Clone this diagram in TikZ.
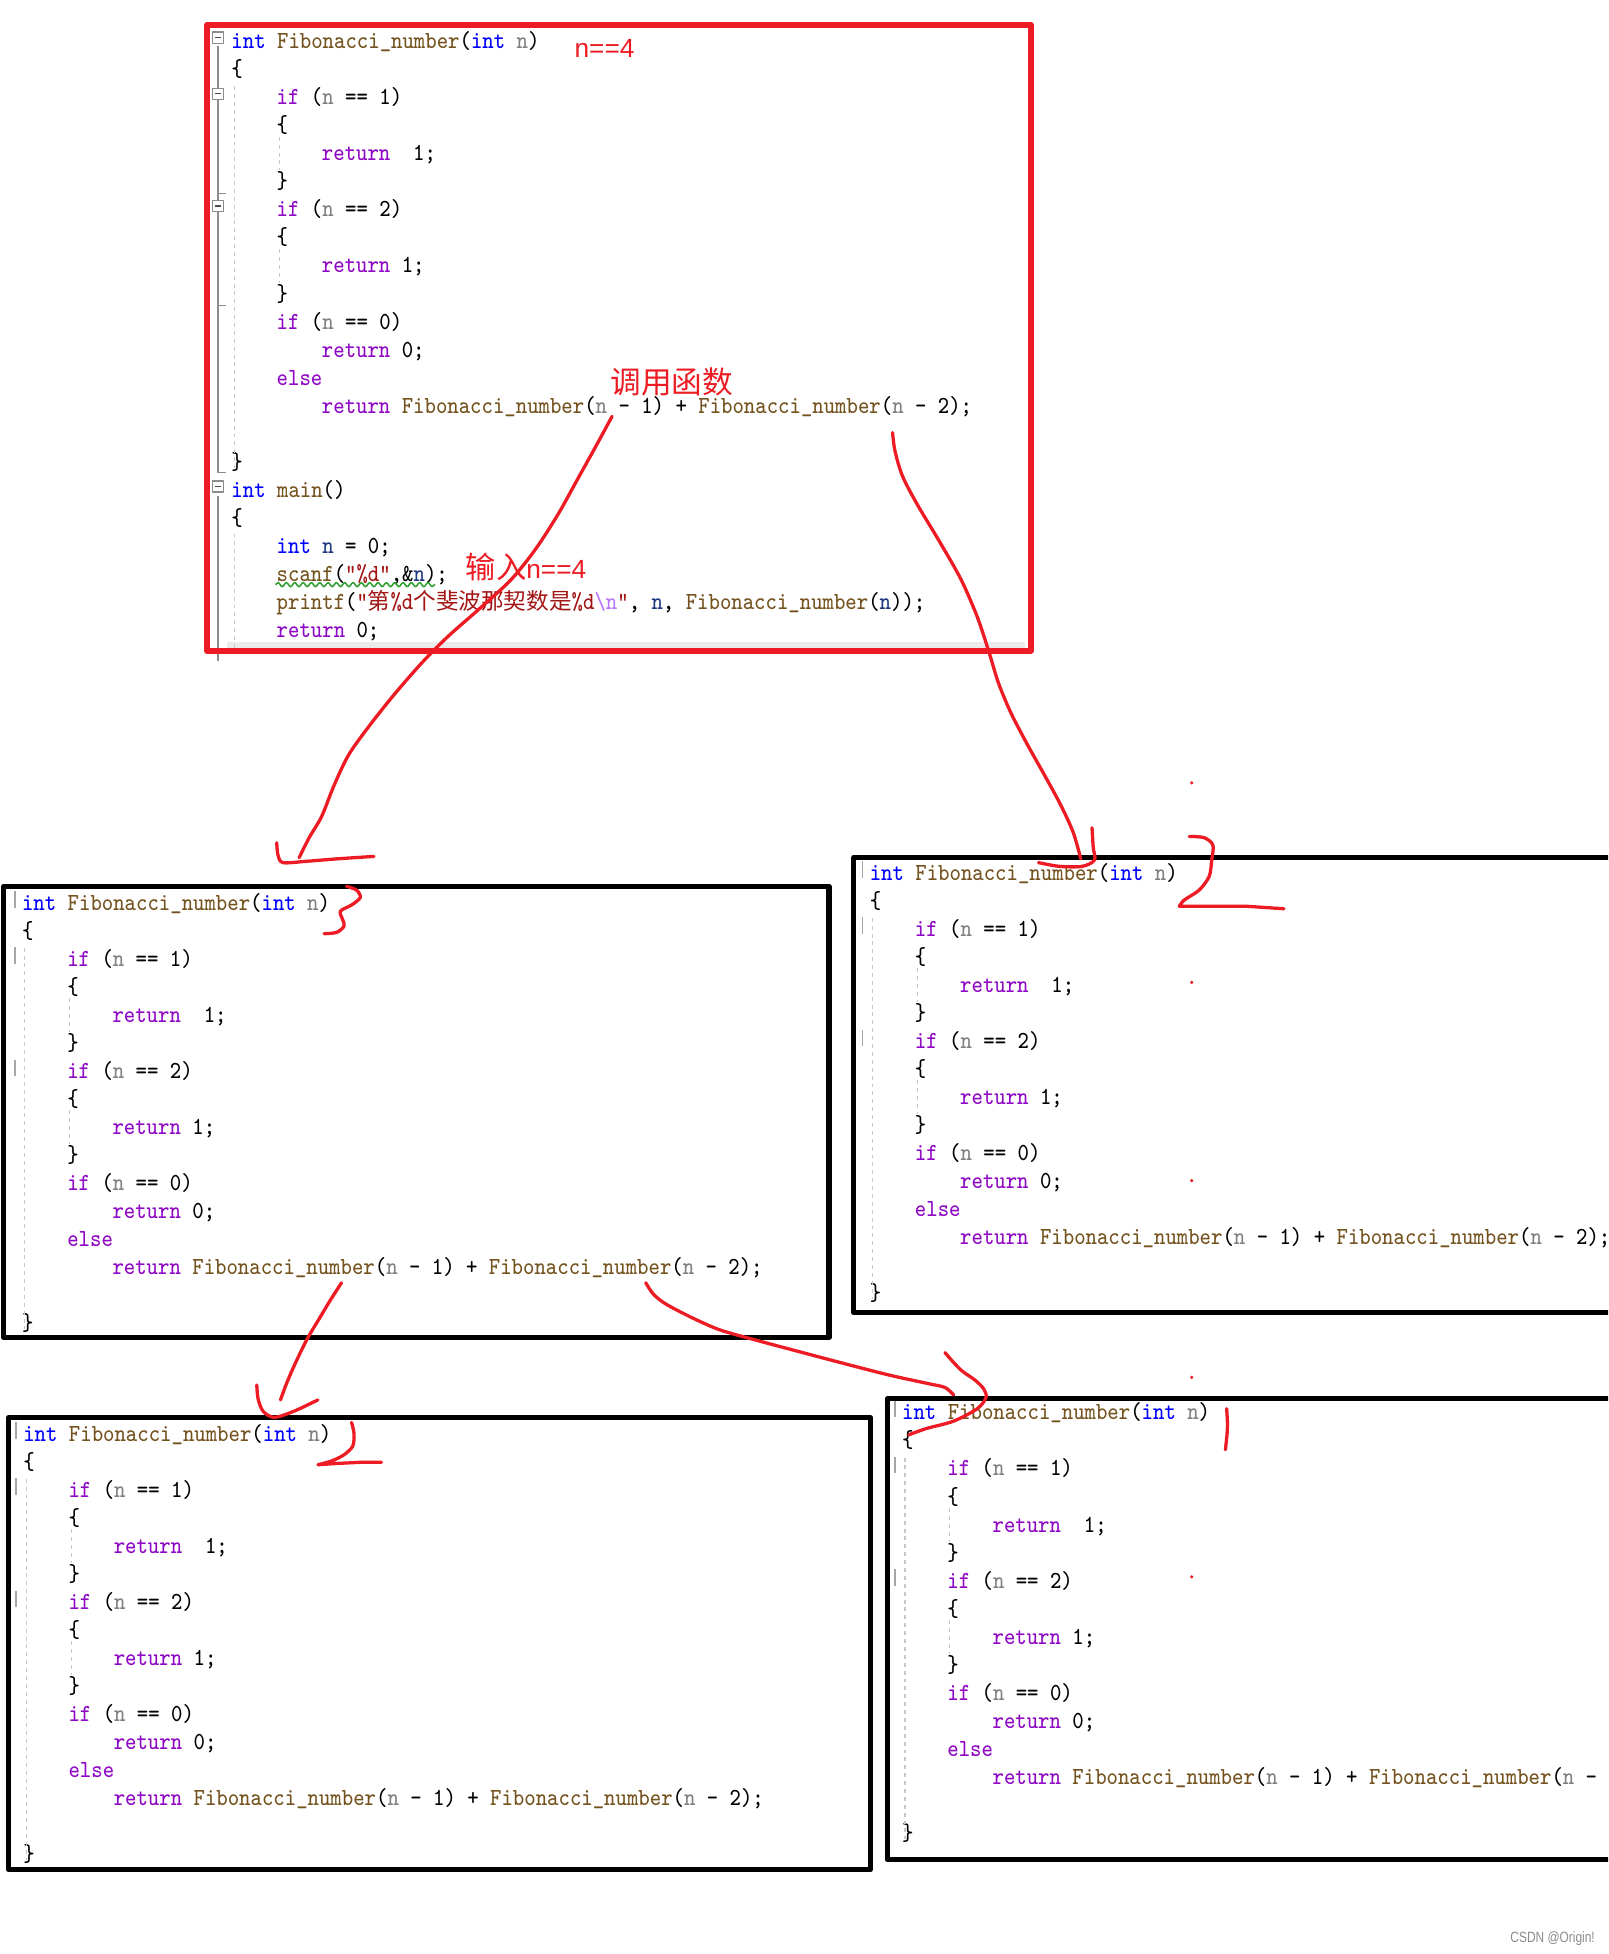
\documentclass[tikz,border=0pt]{standalone}
\usepackage{fontspec}
\usetikzlibrary{decorations.pathmorphing}
\newfontfamily\codefont{Latin Modern Mono}[FakeStretch=0.875]
\newfontfamily\cjkfont{Noto Sans CJK SC}
\newfontfamily\notefont{Liberation Sans}
\newfontfamily\markfont{Liberation Sans}[FakeStretch=0.8]
\definecolor{kwblue}{HTML}{0000FF}
\definecolor{ctlpurple}{HTML}{8F08C4}
\definecolor{fnbrown}{HTML}{74531F}
\definecolor{pargray}{HTML}{808080}
\definecolor{varnavy}{HTML}{1F377F}
\definecolor{strred}{HTML}{A31515}
\definecolor{escpurple}{HTML}{B776FB}
\definecolor{notered}{HTML}{ED1C24}
\definecolor{wavygreen}{HTML}{2E9E2E}
% code colouring
\newcommand{\ckw}[1]{\textcolor{kwblue}{#1}}
\newcommand{\cctl}[1]{\textcolor{ctlpurple}{#1}}
\newcommand{\cfn}[1]{\textcolor{fnbrown}{#1}}
\newcommand{\cpar}[1]{\textcolor{pargray}{#1}}
\newcommand{\cvar}[1]{\textcolor{varnavy}{#1}}
\newcommand{\cstr}[1]{\textcolor{strred}{#1}}
\newcommand{\cesc}[1]{\textcolor{escpurple}{#1}}
\newcommand{\czh}[1]{{\fontsize{5.16pt}{6pt}\cjkfont #1}}
% one code line: name, column, row, text
\newcommand{\codeln}[4]{\node[codetxt] (#1) at ({#2*9.07},{#3*22.5+8}) {#4};}
% the function body: prefix, x, y of first line
\newcommand{\fibbody}[3]{%
\begin{scope}[shift={(#2,#3)}]
	\codeln{#1-0}{0}{0}{\ckw{int} \cfn{Fibonacci\_number}(\ckw{int} \cpar{n})}
	\codeln{#1-1}{0}{1}{\{}
	\codeln{#1-2}{4}{2}{\cctl{if} (\cpar{n} == 1)}
	\codeln{#1-3}{4}{3}{\{}
	\codeln{#1-4}{8}{4}{\cctl{return}~~1;}
	\codeln{#1-5}{4}{5}{\}}
	\codeln{#1-6}{4}{6}{\cctl{if} (\cpar{n} == 2)}
	\codeln{#1-7}{4}{7}{\{}
	\codeln{#1-8}{8}{8}{\cctl{return} 1;}
	\codeln{#1-9}{4}{9}{\}}
	\codeln{#1-10}{4}{10}{\cctl{if} (\cpar{n} == 0)}
	\codeln{#1-11}{8}{11}{\cctl{return} 0;}
	\codeln{#1-12}{4}{12}{\cctl{else}}
	\codeln{#1-13}{8}{13}{\cctl{return} \cfn{Fibonacci\_number}(\cpar{n} - 1) + \cfn{Fibonacci\_number}(\cpar{n} - 2);}
	\codeln{#1-15}{0}{15}{\}}
	\draw[guideline] (3,{1.7*22.5}) -- (3,{15.3*22.5});
	\draw[guideline] (39,{3.5*22.5}) -- (39,{4.7*22.5});
	\draw[guideline] (39,{7.5*22.5}) -- (39,{8.7*22.5});
\end{scope}}

\begin{document}
\begin{tikzpicture}[x=0.01cm,y=-0.01cm,line join=round,
	codetxt/.style={anchor=base west,inner sep=0pt,font=\fontsize{5.6pt}{6.4pt}\codefont},
	guideline/.style={draw=black!22,dash pattern=on 0.9pt off 0.9pt,line width=0.25pt},
	gutterbar/.style={draw=black!35,line width=0.35pt},
	foldline/.style={draw=black!45,line width=0.3pt},
	blackbox/.style={draw=black,line width=1.15pt},
	redbox/.style={draw=notered,line width=1.3pt},
	redpen/.style={draw=notered,line width=0.75pt,line cap=round},
	rednote/.style={text=notered,inner sep=0pt,font=\fontsize{6pt}{7pt}\notefont},
	squiggle/.style={draw=wavygreen,line width=0.35pt,decorate,decoration={snake,amplitude=0.45pt,segment length=1.9pt}}]
	\useasboundingbox (0,0) rectangle (1290,1567.5);
	\fill[white] (0,0) rectangle (1290,1567.5);
	\clip (0,0) rectangle (1290,1567.5);
	% main window
	\fill[black!8] (182,515) rectangle (822,520);
	\fibbody{M}{185}{31}
	\begin{scope}[shift={(185,31)}]
		\codeln{M-16}{0}{16}{\ckw{int} \cfn{main}()}
		\codeln{M-17}{0}{17}{\{}
		\codeln{M-18}{4}{18}{\ckw{int} \cvar{n} = 0;}
		\codeln{M-19}{4}{19}{\cfn{scanf}(\cstr{"\%d"},\&\cvar{n});}
		\codeln{M-20}{4}{20}{\cfn{printf}(\cstr{"\czh{第}\%d\czh{个斐波那契数是}\%d}\cesc{\textbackslash n}\cstr{"}, \cvar{n}, \cfn{Fibonacci\_number}(\cvar{n}));}
		\codeln{M-21}{4}{21}{\cctl{return} 0;}
		\draw[guideline] (3,397) -- (3,490);
	\end{scope}
	\draw[squiggle] (221,469) -- (349,469);
	\draw[foldline] (175,37)--(175,379)--(181,379);
	\draw[foldline] (175,155)--(181,155) (175,245)--(181,245);
	\draw[foldline] (175,398)--(175,530);
	\foreach \r in {0,2,6,16} {
		\draw[foldline,fill=white] (170.5,{31+\r*22.5-5.25}) rectangle ++(9,9);
		\draw[black!70,line width=0.3pt] (172.5,{31+\r*22.5-0.75}) -- ++(5,0);
	}
	\draw[redbox] (166,20) rectangle (827,522);
	% the four calls
	\fibbody{A}{17}{722}
	\fibbody{B}{697}{698}
	\fibbody{C}{18}{1148}
	\fibbody{D}{723}{1131}
	\foreach \bx/\by in {17/722,697/698,18/1148,723/1131} {
		\foreach \r in {0,2,6}
			\draw[gutterbar] (\bx-5,{\by+\r*22.5-7}) -- (\bx-5,{\by+\r*22.5+6});
	}
	\draw[blackbox] (3,711) rectangle (665,1073);
	\draw[blackbox] (685,688) rectangle (1300,1053);
	\draw[blackbox] (7,1137) rectangle (698,1500);
	\draw[blackbox] (712,1122) rectangle (1300,1492);
	% red notes
	\node[rednote] (n4) at (485,39) {n==4};
	\node[rednote,font=\fontsize{7pt}{8pt}\cjkfont] (call) at (539,306) {调用函数};
	\node[rednote] (input) at (422,455) {{\fontsize{6.9pt}{8pt}\cjkfont 输入}n==4};
	% pen strokes
	\coordinate (c1s) at (491,334); \coordinate (c1e) at (240,688);
	\coordinate (c2s) at (716,347); \coordinate (c2e) at (867,689);
	\coordinate (c3s) at (274,1029); \coordinate (c3e) at (225,1123);
	\coordinate (c4s) at (518,1029); \coordinate (c4e) at (765,1119);
	\draw[redpen] plot[smooth,tension=0.5] coordinates {(c1s) (478,358) (463,385) (448,412) (430,440) (410,465) (385,488) (360,510) (340,530) (318,555) (298,580) (280,605) (268,630) (258,655) (248,672) (c1e)};
	\draw[redpen] plot[smooth,tension=0.5] coordinates {(222,676) (223,686) (227,692) (245,691) (270,689) (300,687)};
	\draw[redpen] plot[smooth,tension=0.5] coordinates {(278,711) (286,714) (289,720) (282,726) (273,731) (275,738) (276,743) (270,748) (260,749)};
	\draw[redpen] plot[smooth,tension=0.5] coordinates {(c2s) (718,362) (724,382) (736,405) (754,435) (771,465) (784,495) (793,522) (801,548) (811,572) (824,597) (838,622) (851,646) (861,668) (c2e)};
	\draw[redpen] plot[smooth,tension=0.5] coordinates {(876,664) (877,680) (878,690) (868,695) (850,695) (833,692)};
	\draw[redpen] plot[smooth,tension=0.5] coordinates {(954,671) (966,672) (973,678) (972,690) (970,703) (962,714) (950,722) (946,727)} -- (962,727) -- (1000,727) -- (1030,729);
	\draw[redpen] plot[smooth,tension=0.5] coordinates {(c3s) (265,1043) (256,1058) (247,1073) (240,1087) (234,1100) (229,1112) (c3e)};
	\draw[redpen] plot[smooth,tension=0.5] coordinates {(206,1111) (207,1122) (211,1132) (220,1137) (236,1132) (255,1123)};
	\draw[redpen] plot[smooth,tension=0.5] coordinates {(282,1141) (284,1150) (283,1160) (276,1167) (266,1172) (255,1175)} -- (270,1174) -- (290,1173) -- (306,1173);
	\draw[redpen] plot[smooth,tension=0.5] coordinates {(c4s) (524,1038) (534,1046) (555,1057) (578,1067) (610,1076) (640,1084) (674,1093) (713,1103) (745,1110) (758,1113) (c4e)};
	\draw[redpen] plot[smooth,tension=0.5] coordinates {(758,1085) (765,1093) (772,1100) (782,1107) (789,1114) (791,1121) (784,1130) (765,1140) (743,1146) (729,1151)};
	\draw[redpen] (984,1130) .. controls (985,1145) .. (983,1163);
	\foreach \y in {628,788,947,1105,1265}
		\fill[notered] (956,\y) circle[radius=0.4pt];
	\node[anchor=east,inner sep=0pt,text=black!45,font=\fontsize{3.4pt}{4pt}\markfont] (mark) at (1280,1555) {CSDN @Origin!};
\end{tikzpicture}
\end{document}
